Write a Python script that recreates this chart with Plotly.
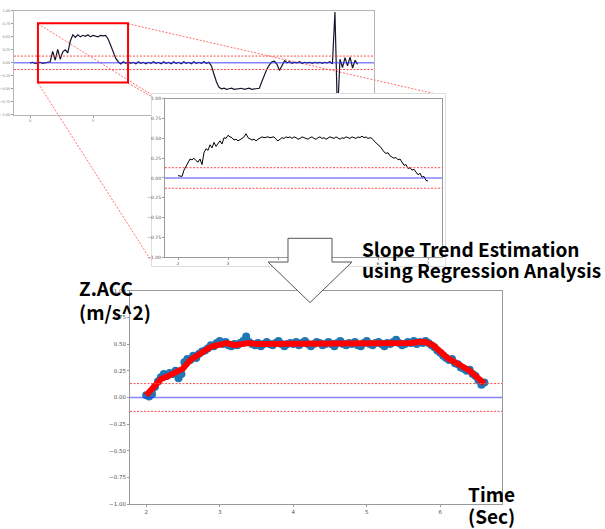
import plotly.graph_objects as go

W, H = 605, 529

# ---------------- data ----------------
# full recording (overview), sampled every 0.2 s from 0 s
ov_t0, ov_dt = 0.0, 0.2
ov_z = [0.00, 0.01, -0.01, 0.00, 0.01, -0.01, 0.00, 0.01, 0.02, 0.22,
        0.05, 0.26, 0.07, 0.21, 0.25, 0.19, 0.42, 0.54, 0.49, 0.54,
        0.50, 0.53, 0.51, 0.54, 0.50, 0.53, 0.52, 0.50, 0.53, 0.52,
        0.53, 0.46, 0.34, 0.22, 0.09, 0.02, -0.02, 0.02, -0.01, 0.02,
        -0.01, 0.01, -0.02, 0.02, -0.01, 0.01, -0.02, 0.01, -0.01, 0.02,
        -0.01, 0.01, -0.02, 0.02, -0.01, 0.01, -0.02, 0.02, -0.01, 0.01,
        -0.02, 0.02, -0.01, 0.01, -0.02, 0.02, -0.01, 0.01, -0.01, 0.02,
        -0.01, 0.01, -0.06, -0.22, -0.37, -0.47, -0.50, -0.49, -0.51, -0.50,
        -0.49, -0.51, -0.50, -0.50, -0.49, -0.51, -0.50, -0.49, -0.51, -0.50,
        -0.50, -0.49, -0.36, -0.23, -0.12, -0.04, 0.02, 0.03, -0.03, -0.15,
        -0.05, 0.04, 0.00, 0.02, -0.01, 0.01, 0.00, 0.02, -0.01, 0.01,
        0.00, 0.01, -0.01, 0.01, 0.00, 0.01, -0.01, 0.01, 0.00, 0.02,
        -0.02, 0.98, -1.00, 0.07, -0.09, 0.10, -0.06, 0.11, -0.10, 0.05,
        -0.03]
ov_xticks = [0, 5]

# selected segment (middle panel), sampled every 0.04 s from 2.0 s
seg_t0, seg_dt = 2.0, 0.04
seg_z = [0.03, 0.02, 0.02, 0.10, 0.15, 0.19, 0.24, 0.23, 0.25, 0.22,
         0.20, 0.24, 0.17, 0.32, 0.37, 0.35, 0.42, 0.38, 0.45, 0.40,
         0.44, 0.47, 0.43, 0.51, 0.50, 0.54, 0.52, 0.51, 0.48, 0.49,
         0.47, 0.48, 0.50, 0.52, 0.56, 0.51, 0.50, 0.48, 0.49, 0.47,
         0.49, 0.51, 0.52, 0.51, 0.52, 0.52, 0.51, 0.52, 0.52, 0.49,
         0.47, 0.49, 0.51, 0.50, 0.52, 0.51, 0.52, 0.50, 0.52, 0.51,
         0.49, 0.50, 0.52, 0.51, 0.50, 0.49, 0.51, 0.52, 0.50, 0.49,
         0.51, 0.52, 0.50, 0.51, 0.49, 0.50, 0.52, 0.51, 0.50, 0.52,
         0.51, 0.49, 0.51, 0.50, 0.52, 0.51, 0.50, 0.52, 0.51, 0.50,
         0.52, 0.51, 0.53, 0.51, 0.52, 0.50, 0.51, 0.50, 0.47, 0.44,
         0.42, 0.40, 0.36, 0.33, 0.31, 0.32, 0.28, 0.27, 0.25, 0.26,
         0.23, 0.24, 0.19, 0.16, 0.17, 0.12, 0.13, 0.10, 0.11, 0.07,
         0.04, 0.06, 0.01, 0.02, -0.03, -0.04]
seg_xticks = [2, 3, 4, 5, 6, 7]

# measured samples for the regression (bottom panel), every 0.04 s from 2.0 s
meas_t0, meas_dt = 2.0, 0.04
meas_z = [0.02, 0.01, 0.03, 0.10, 0.15, 0.19, 0.22, 0.20, 0.23, 0.22,
          0.25, 0.18, 0.22, 0.33, 0.36, 0.35, 0.39, 0.37, 0.41, 0.43,
          0.44, 0.46, 0.49, 0.48, 0.51, 0.53, 0.50, 0.52, 0.49, 0.48,
          0.50, 0.49, 0.51, 0.53, 0.57, 0.52, 0.50, 0.49, 0.51, 0.48,
          0.50, 0.52, 0.50, 0.49, 0.51, 0.53, 0.50, 0.48, 0.50, 0.51,
          0.50, 0.52, 0.49, 0.51, 0.53, 0.50, 0.48, 0.50, 0.52, 0.51,
          0.49, 0.50, 0.52, 0.50, 0.48, 0.51, 0.53, 0.50, 0.49, 0.51,
          0.50, 0.52, 0.49, 0.48, 0.51, 0.53, 0.50, 0.49, 0.51, 0.52,
          0.50, 0.48, 0.51, 0.50, 0.52, 0.54, 0.51, 0.49, 0.50, 0.52,
          0.51, 0.53, 0.50, 0.52, 0.51, 0.53, 0.51, 0.49, 0.47, 0.44,
          0.42, 0.39, 0.37, 0.35, 0.36, 0.32, 0.31, 0.28, 0.27, 0.25,
          0.26, 0.22, 0.20, 0.16, 0.12, 0.14]

# regression trend, every 0.1 s from 2.0 s
trend_t0, trend_dt = 2.0, 0.1
trend_z = [0.02, 0.10, 0.17, 0.20, 0.23, 0.27, 0.35, 0.40, 0.44, 0.48,
           0.50, 0.51, 0.49, 0.50, 0.51, 0.50, 0.50, 0.50, 0.51, 0.50,
           0.50, 0.51, 0.50, 0.50, 0.50, 0.51, 0.50, 0.50, 0.51, 0.50,
           0.50, 0.50, 0.51, 0.50, 0.51, 0.51, 0.51, 0.52, 0.52, 0.49,
           0.43, 0.37, 0.33, 0.29, 0.25, 0.19, 0.13]
bot_xticks = [2, 3, 4, 5, 6]

THRESH = 0.13
y_ticks = [1.0, 0.75, 0.5, 0.25, 0.0, -0.25, -0.5, -0.75, -1.0]
y_ticktext = ["%.2f" % v if v >= 0 else "\u2212%.2f" % -v for v in y_ticks]


def times(t0, dt, vals):
    return [t0 + dt * i for i in range(len(vals))]


def px(x, y):
    """pixel position -> paper coordinates"""
    return x / W, 1 - y / H


def dom_x(a, b):
    return [a / W, b / W]


def dom_y(top, bottom):
    return [1 - bottom / H, 1 - top / H]


fig = go.Figure()

# overview
fig.add_trace(go.Scatter(x=times(ov_t0, ov_dt, ov_z), y=ov_z, mode="lines",
                         line=dict(color="#15152a", width=1.2),
                         xaxis="x", yaxis="y", hoverinfo="skip"))
# blank sheet that the zoomed panel sits on
fig.add_trace(go.Scatter(x=[0.5], y=[0.5], mode="markers", marker=dict(opacity=0),
                         xaxis="x2", yaxis="y2", hoverinfo="skip"))
# zoomed segment
fig.add_trace(go.Scatter(x=times(seg_t0, seg_dt, seg_z), y=seg_z, mode="lines",
                         line=dict(color="#000000", width=1),
                         xaxis="x3", yaxis="y3", hoverinfo="skip"))
# measured samples + regression trend
fig.add_trace(go.Scatter(x=times(meas_t0, meas_dt, meas_z), y=meas_z, mode="lines+markers",
                         line=dict(color="#1f77b4", width=4),
                         marker=dict(color="#1f77b4", size=8, line=dict(width=0)),
                         xaxis="x4", yaxis="y4", hoverinfo="skip"))
fig.add_trace(go.Scatter(x=times(trend_t0, trend_dt, trend_z), y=trend_z, mode="lines",
                         line=dict(color="#ff0000", width=6),
                         xaxis="x4", yaxis="y4", hoverinfo="skip"))

ov_range = [-1.27, 27.3]
seg_range = [1.74, 7.28]
bot_range = [1.78, 6.84]

axis_common = dict(showgrid=False, zeroline=False, showline=True, mirror=True,
                   linecolor="#9a9a9a", linewidth=1, ticks="outside",
                   tickcolor="#9a9a9a", tickwidth=1,
                   tickfont=dict(family="DejaVu Sans", color="#444444"))

layout = dict(
    width=W, height=H, margin=dict(l=0, r=0, t=0, b=0),
    paper_bgcolor="white", plot_bgcolor="white", showlegend=False,
    xaxis=dict(axis_common, domain=dom_x(14, 374), range=ov_range, anchor="y",
               tickvals=ov_xticks, ticklen=2, linecolor="#b5b5b5",
               tickfont=dict(size=3.5, family="DejaVu Sans", color="#777777")),
    yaxis=dict(axis_common, domain=dom_y(8, 113), range=[-1, 1], anchor="x",
               tickvals=y_ticks, ticktext=y_ticktext, ticklen=2, linecolor="#b5b5b5",
               tickfont=dict(size=3.5, family="DejaVu Sans", color="#777777")),
    xaxis2=dict(domain=dom_x(152, 445), range=[0, 1], anchor="y2", visible=True,
                showgrid=False, zeroline=False, showticklabels=False, ticks="",
                showline=True, mirror=True, linecolor="#dedede"),
    yaxis2=dict(domain=dom_y(92, 266), range=[0, 1], anchor="x2",
                showgrid=False, zeroline=False, showticklabels=False, ticks="",
                showline=True, mirror=True, linecolor="#dedede"),
    xaxis3=dict(axis_common, domain=dom_x(165, 442), range=seg_range, anchor="y3",
                tickvals=seg_xticks, ticklen=2,
                tickfont=dict(size=4.5, family="DejaVu Sans", color="#555555")),
    yaxis3=dict(axis_common, domain=dom_y(97, 257), range=[-1, 1], anchor="x3",
                tickvals=y_ticks, ticktext=y_ticktext, ticklen=2,
                tickfont=dict(size=4.5, family="DejaVu Sans", color="#555555")),
    xaxis4=dict(axis_common, domain=dom_x(130, 502), range=bot_range, anchor="y4",
                tickvals=bot_xticks, ticklen=2,
                tickfont=dict(size=5.5, family="DejaVu Sans", color="#555555")),
    yaxis4=dict(axis_common, domain=dom_y(291, 507), range=[-1, 1], anchor="x4",
                tickvals=y_ticks, ticktext=y_ticktext, ticklen=2,
                tickfont=dict(size=5.5, family="DejaVu Sans", color="#555555")),
)
fig.update_layout(**layout)

shapes = []
# threshold band and zero line in each panel
for xr, ax, rng in (("x", "y", ov_range), ("x3", "y3", seg_range), ("x4", "y4", bot_range)):
    for yv in (THRESH, -THRESH):
        shapes.append(dict(type="line", xref=xr, yref=ax, x0=rng[0], x1=rng[1], y0=yv, y1=yv,
                           line=dict(color="#ff4a4a", width=1, dash="2px,1.5px")))
    shapes.append(dict(type="line", xref=xr, yref=ax, x0=rng[0], x1=rng[1], y0=0, y1=0,
                       line=dict(color="rgba(50,50,255,0.6)", width=1.5)))

# selection box on the overview
SEL_T = [0.63, 7.78]
SEL_Z = [-0.38, 0.76]
shapes.append(dict(type="rect", xref="x", yref="y", x0=SEL_T[0], x1=SEL_T[1],
                   y0=SEL_Z[0], y1=SEL_Z[1], line=dict(color="#ff0000", width=2)))

# guide lines from the selection box to the zoomed panel
guides = [((38, 21), (152, 93)), ((128, 21), (440, 93)),
          ((38, 81), (152, 262)), ((128, 81), (440, 262))]
for (ax_, ay_), (bx_, by_) in guides:
    x0, y0 = px(ax_, ay_)
    x1, y1 = px(bx_, by_)
    shapes.append(dict(type="line", xref="paper", yref="paper", layer="below",
                       x0=x0, y0=y0, x1=x1, y1=y1,
                       line=dict(color="#ff7070", width=1, dash="2px,1.5px")))

# down arrow
arrow_pts = [(288, 238), (332, 238), (332, 262), (352, 262), (310, 303),
             (268, 262), (288, 262)]
path = "M " + " L ".join("%.5f,%.5f" % px(a, b) for a, b in arrow_pts) + " Z"
shapes.append(dict(type="path", xref="paper", yref="paper", path=path,
                   fillcolor="white", line=dict(color="#555555", width=1)))
fig.update_layout(shapes=shapes)

label_font = dict(family="Noto Sans CJK KR", size=19, color="#000000", weight="bold")
labels = [("Slope Trend Estimation", 362, 248),
          ("using Regression Analysis", 362, 270),
          ("Z.ACC", 79, 288),
          ("(m/s^2)", 79, 312),
          ("Time", 468, 496),
          ("(Sec)", 468, 518)]
for txt, lx, ly in labels:
    x, y = px(lx, ly)
    fig.add_annotation(x=x, y=y, xref="paper", yref="paper", text=txt, showarrow=False,
                       xanchor="left", yanchor="middle", font=label_font,
                       borderpad=0, borderwidth=0)

fig.write_html("out.html")
